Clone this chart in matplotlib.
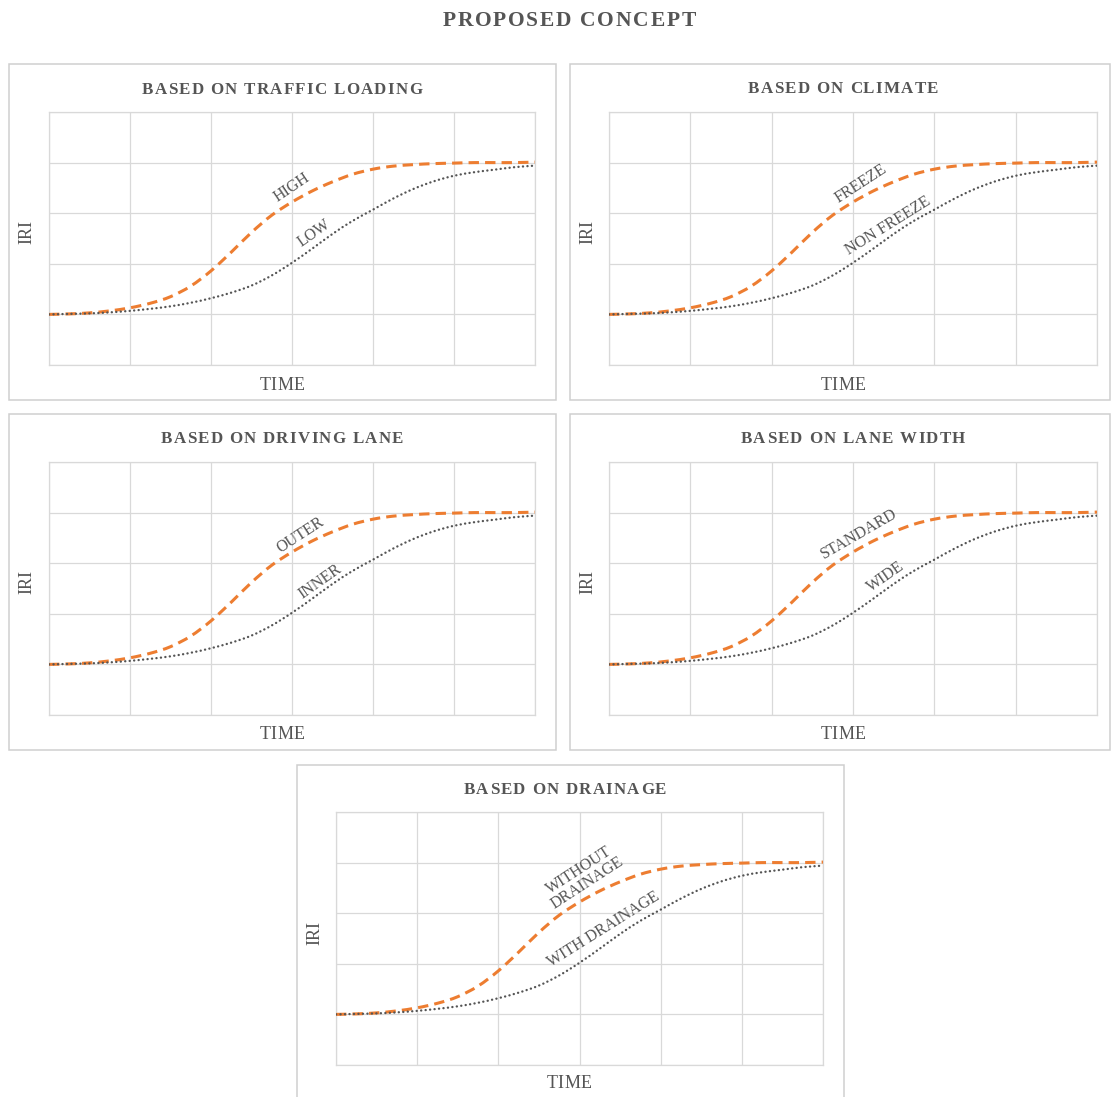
import matplotlib
matplotlib.use("Agg")
import matplotlib.pyplot as plt
from matplotlib.patches import Rectangle, PathPatch
from matplotlib.path import Path
from matplotlib.font_manager import FontProperties, findfont
from matplotlib.ft2font import FT2Font

# ---- data -------------------------------------------------------------
time_pts = [0, 0.25, 0.5, 0.75, 1, 1.25, 1.5, 1.75, 2, 2.25, 2.5, 2.75, 3,
            3.25, 3.5, 3.75, 4, 4.25, 4.5, 4.75, 5, 5.25, 5.5, 5.75, 6]
upper_iri = [1.00, 1.01, 1.03, 1.07, 1.13, 1.22, 1.35, 1.56, 1.86, 2.23, 2.62,
             2.96, 3.22, 3.44, 3.62, 3.77, 3.87, 3.93, 3.96, 3.98, 3.99, 4.00,
             4.00, 4.00, 4.01]
lower_iri = [1.00, 1.01, 1.02, 1.04, 1.07, 1.11, 1.16, 1.23, 1.32, 1.43, 1.57,
             1.77, 2.02, 2.30, 2.59, 2.85, 3.07, 3.29, 3.48, 3.63, 3.74, 3.81,
             3.86, 3.91, 3.94]

main_title = "PROPOSED CONCEPT"
panel_titles = ["BASED ON TRAFFIC LOADING", "BASED ON CLIMATE",
                "BASED ON DRIVING LANE", "BASED ON LANE WIDTH",
                "BASED ON DRAINAGE"]
upper_labels = ["HIGH", "FREEZE", "OUTER", "STANDARD", "WITHOUT\nDRAINAGE"]
lower_labels = ["LOW", "NON FREEZE", "INNER", "WIDE", "WITH DRAINAGE"]
x_label = "TIME"
y_label = "IRI"

# ---- layout (pixels) ----------------------------------------------------
W, H, DPI = 1111, 1097, 100
panels = [
    dict(box=(9, 64, 556, 400), plot=(49, 112, 535, 365), tx=282, ty=94,
         lx=282, ly=390, ix=27, iy=232,
         up=(3.00, 3.50, 34), lo=(3.27, 2.61, 35)),
    dict(box=(570, 64, 1110, 400), plot=(609, 112, 1097, 365), tx=843, ty=93,
         lx=843, ly=390, ix=588, iy=232,
         up=(3.10, 3.58, 33), lo=(3.43, 2.75, 32)),
    dict(box=(9, 414, 556, 750), plot=(49, 462, 535, 715), tx=282, ty=443,
         lx=282, ly=739, ix=27, iy=582,
         up=(3.10, 3.56, 33), lo=(3.35, 2.63, 35)),
    dict(box=(570, 414, 1110, 750), plot=(609, 462, 1097, 715), tx=853, ty=443,
         lx=843, ly=739, ix=588, iy=582,
         up=(3.07, 3.58, 30), lo=(3.40, 2.73, 35)),
    dict(box=(297, 765, 844, 1110), plot=(336, 812, 823, 1065), tx=565, ty=794,
         lx=569, ly=1088, ix=315, iy=933,
         up=(3.04, 3.72, 33), lo=(3.30, 2.67, 32)),
]

TEXT = "#555555"
GRID = "#D9D9D9"
BORDER = "#CFCFCF"
ORANGE = "#ED7D31"
DOTS = "#555555"
SERIF = "Liberation Serif"

fig = plt.figure(figsize=(W / DPI, H / DPI), dpi=DPI)
fig.patch.set_facecolor("white")


def fx(x):
    return x / W


def fy(y):
    return 1 - y / H


def smooth_path(xs, ys):
    """Cubic Bezier path through the points (Catmull-Rom tangents)."""
    pts = list(zip(xs, ys))
    n = len(pts)
    verts = [pts[0]]
    codes = [Path.MOVETO]
    for i in range(n - 1):
        p0 = pts[max(i - 1, 0)]
        p1 = pts[i]
        p2 = pts[i + 1]
        p3 = pts[min(i + 2, n - 1)]
        c1 = (p1[0] + (p2[0] - p0[0]) / 6, p1[1] + (p2[1] - p0[1]) / 6)
        c2 = (p2[0] - (p3[0] - p1[0]) / 6, p2[1] - (p3[1] - p1[1]) / 6)
        verts += [c1, c2, p2]
        codes += [Path.CURVE4] * 3
    return Path(verts, codes)


def spaced_text(cx, baseline, s, size, weight, track):
    """Draw letter-spaced text centred on cx with its baseline at the given y (px)."""
    prop = FontProperties(family=SERIF, weight=weight, size=size)
    font = FT2Font(findfont(prop))
    font.set_size(size, DPI)
    adv = [font.load_char(ord(c)).linearHoriAdvance / 65536 for c in s]
    total = sum(adv) + track * (len(s) - 1)
    x = cx - total / 2
    for c, a in zip(s, adv):
        fig.text(fx(x), fy(baseline), c, fontproperties=prop, color=TEXT,
                 ha="left", va="baseline")
        x += a + track


spaced_text(569, 26, main_title, 15.5, "bold", 1.7)

for i, p in enumerate(panels):
    bx0, by0, bx1, by1 = p["box"]
    fig.patches.append(Rectangle((fx(bx0), fy(by1)), (bx1 - bx0) / W,
                                 (by1 - by0) / H, transform=fig.transFigure,
                                 fill=False, edgecolor=BORDER, linewidth=1.1))
    x0, y0, x1, y1 = p["plot"]
    ax = fig.add_axes([fx(x0), fy(y1), (x1 - x0) / W, (y1 - y0) / H])
    ax.set_xlim(0, 6)
    ax.set_ylim(0, 5)
    ax.set_xticks(range(7))
    ax.set_yticks(range(6))
    ax.tick_params(length=0, labelbottom=False, labelleft=False)
    ax.grid(True, color=GRID, linewidth=0.9)
    for sp in ax.spines.values():
        sp.set_color(GRID)
        sp.set_linewidth(0.9)
    ax.set_axisbelow(True)

    ax.add_patch(PathPatch(smooth_path(time_pts, upper_iri), fill=False,
                           edgecolor=ORANGE, linewidth=2.2,
                           linestyle=(0, (3.4, 2.0)), capstyle="butt",
                           zorder=3))
    ax.add_patch(PathPatch(smooth_path(time_pts, lower_iri), fill=False,
                           edgecolor=DOTS, linewidth=1.7,
                           linestyle=(0, (0.05, 1.85)), capstyle="round",
                           zorder=4))

    ux, uy, ur = p["up"]
    ax.text(ux, uy, upper_labels[i], rotation=ur, rotation_mode="anchor",
            ha="center", va="center", multialignment="center",
            family=SERIF, fontsize=11.5, color=TEXT, linespacing=0.95, zorder=5)
    lx_, ly_, lr = p["lo"]
    ax.text(lx_, ly_, lower_labels[i], rotation=lr, rotation_mode="anchor",
            ha="center", va="center", family=SERIF, fontsize=11.5,
            color=TEXT, zorder=5)

    spaced_text(p["tx"], p["ty"], panel_titles[i], 12.2, "bold", 1.3)
    spaced_text(p["lx"], p["ly"], x_label, 13, "normal", 0.3)
    fig.text(fx(p["ix"]), fy(p["iy"]), y_label, rotation=90, ha="center",
             va="center", family=SERIF, fontsize=13, color=TEXT)

fig.savefig("out.png", dpi=DPI, facecolor="white")
